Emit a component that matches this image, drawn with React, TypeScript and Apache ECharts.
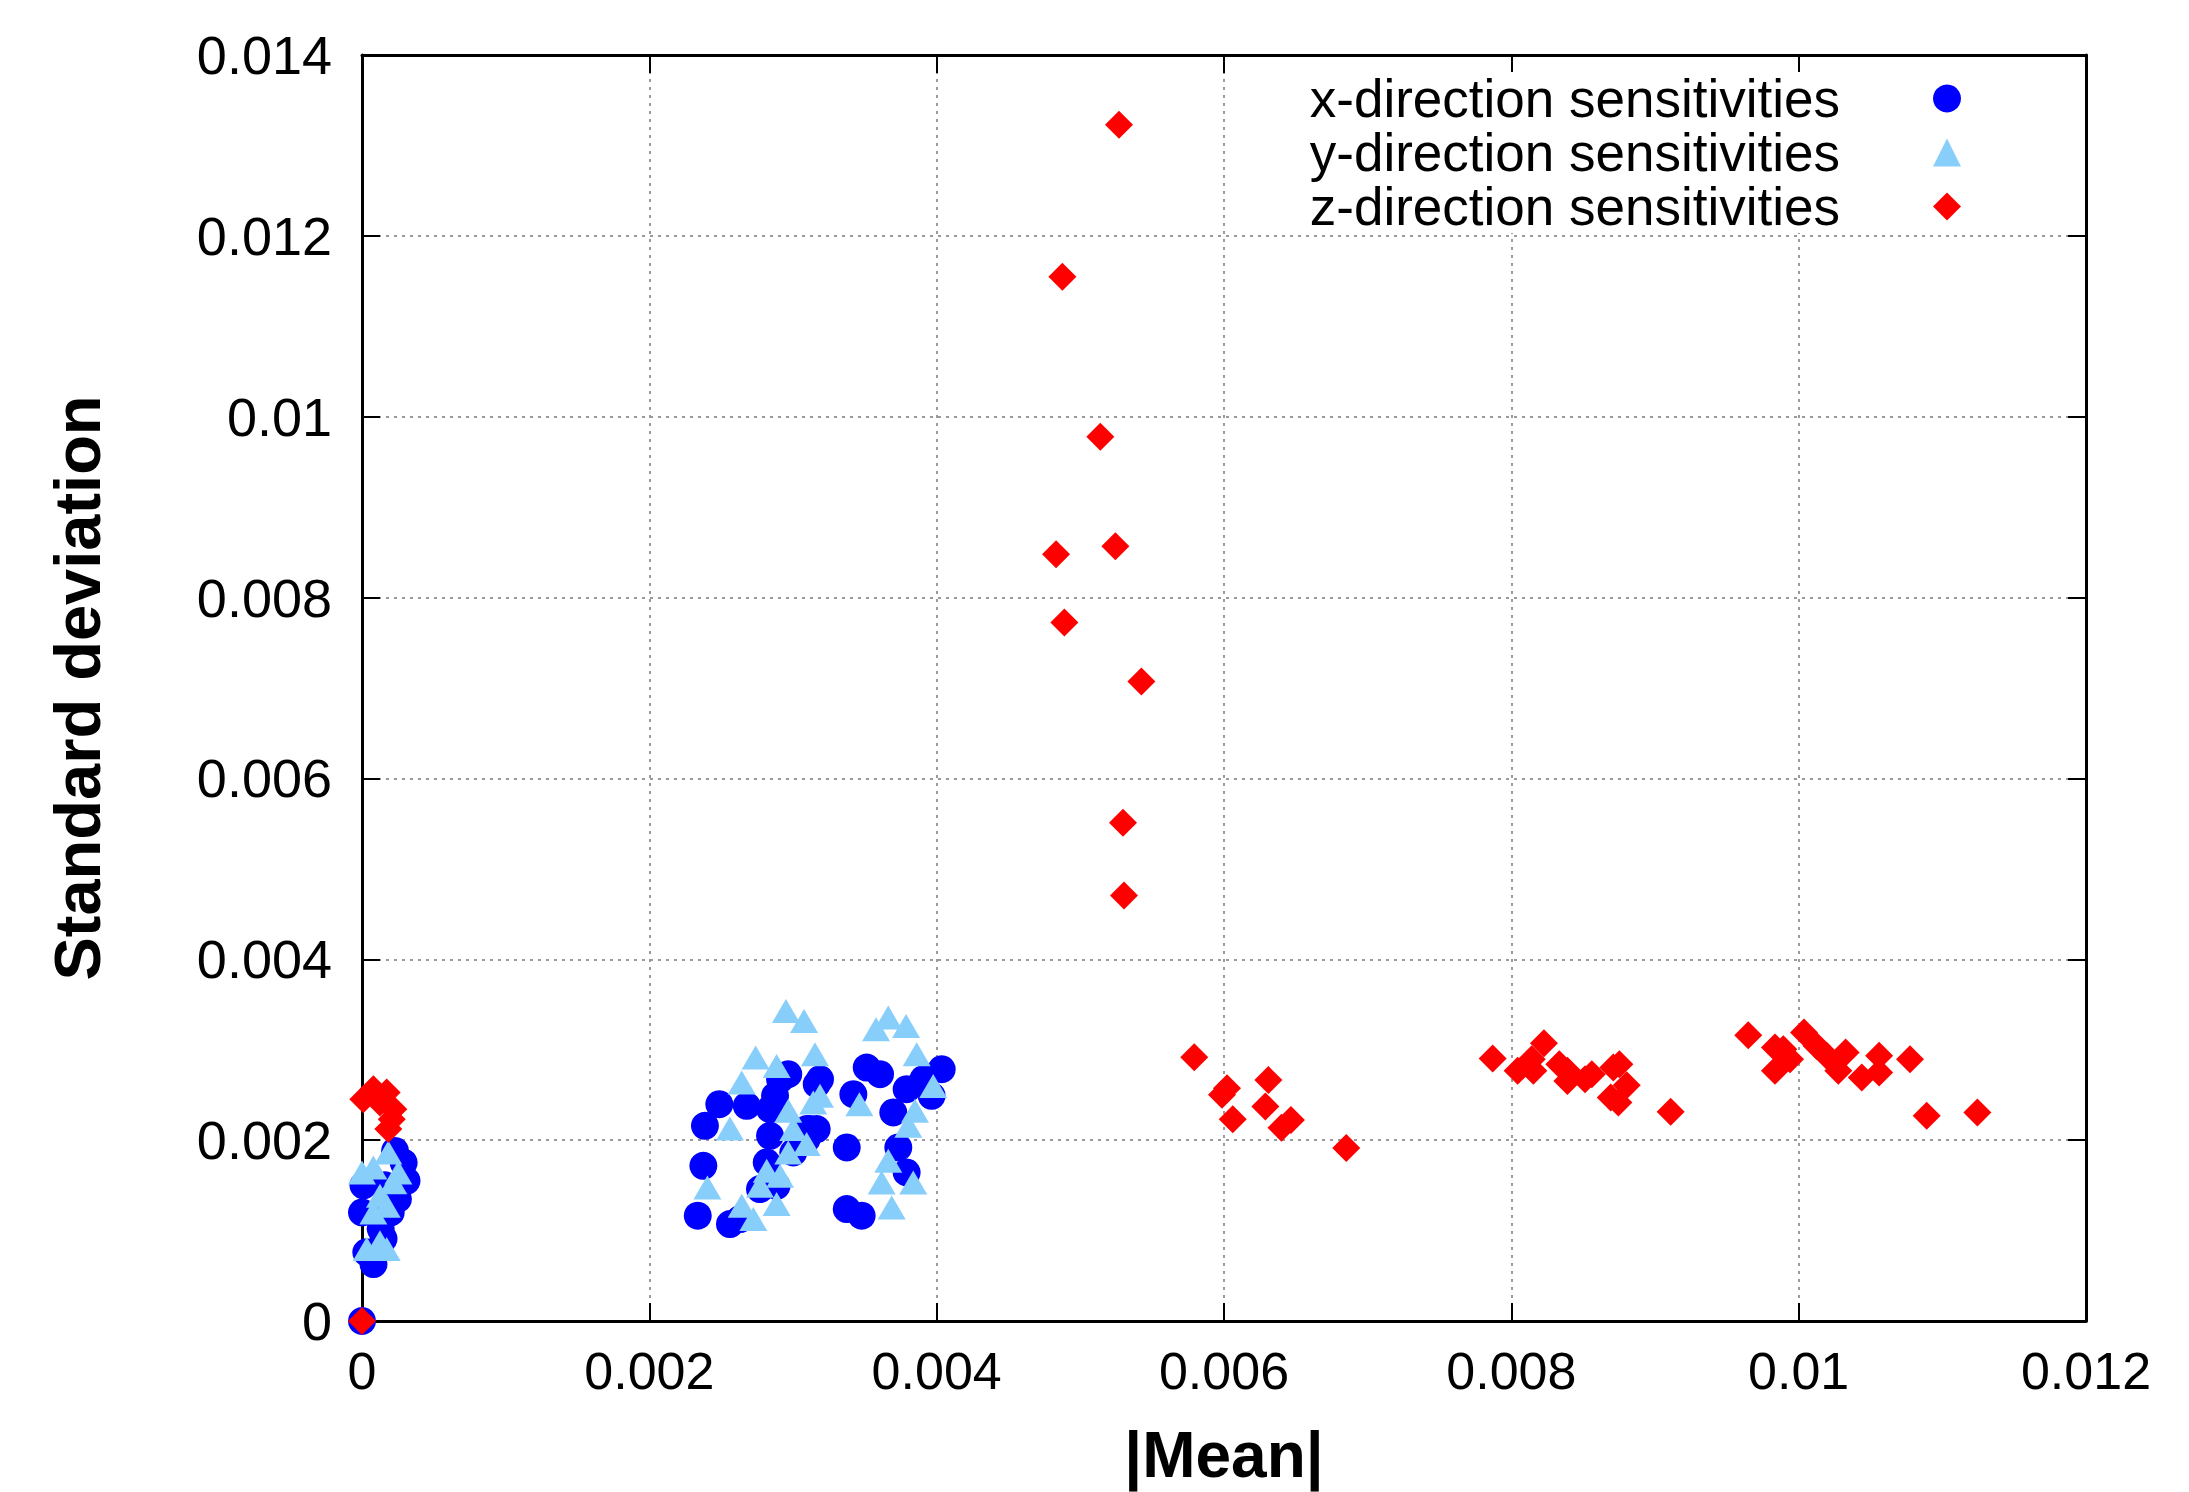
import React, { useEffect, useRef } from "react";
import * as echarts from "echarts";

const seriesNames = [
  "x-direction sensitivities",
  "y-direction sensitivities",
  "z-direction sensitivities",
];

const xTicks = { min: 0, max: 0.012, interval: 0.002 };
const yTicks = { min: 0, max: 0.014, interval: 0.002 };

const xDirection: [number, number][] = [
  [0, 0], [0.00023, 0.00188], [0.00029, 0.00175], [0.00031, 0.00155], [0.00025, 0.00135],
  [0.00001, 0.0015], [0.0, 0.0012], [0.0002, 0.0012], [0.00003, 0.00076], [0.00008, 0.00063],
  [0.00013, 0.00102], [0.00015, 0.00091], [0.00016, 0.0015],
  [0.002387, 0.002158], [0.002487, 0.002398], [0.002678, 0.002379], [0.002376, 0.001716],
  [0.002337, 0.001164], [0.002561, 0.001072], [0.002631, 0.001127], [0.002875, 0.00249],
  [0.002967, 0.002729], [0.003165, 0.002619], [0.00284, 0.002048], [0.002817, 0.001753],
  [0.00277, 0.001459], [0.002886, 0.001495], [0.003095, 0.002122], [0.003002, 0.001864],
  [0.00284, 0.002343], [0.00291, 0.00267], [0.003165, 0.002122], [0.003095, 0.002011],
  [0.003513, 0.002803], [0.003606, 0.002729], [0.00342, 0.002508], [0.003188, 0.002674],
  [0.003374, 0.001919], [0.003374, 0.001238], [0.003478, 0.001164], [0.003698, 0.002306],
  [0.003791, 0.002564], [0.003907, 0.002674], [0.004035, 0.002785], [0.003965, 0.00249],
  [0.003733, 0.001919], [0.003791, 0.001643], [0.003118, 0.002122],
];

const yDirection: [number, number][] = [
  [0.0, 0.001643], [0.000079, 0.001698], [0.000183, 0.001864], [0.000253, 0.001643],
  [0.000218, 0.001533], [0.000125, 0.001385], [0.000172, 0.001274], [0.000079, 0.001201],
  [0.000125, 0.00087], [0.000172, 0.000796], [0.000033, 0.000796],
  [0.002951, 0.003429], [0.003077, 0.003318], [0.00274, 0.002913], [0.002886, 0.002821],
  [0.003153, 0.00295], [0.002643, 0.002637], [0.002561, 0.002129], [0.002967, 0.002324],
  [0.003141, 0.002416], [0.003002, 0.002122], [0.003095, 0.001956], [0.002967, 0.001864],
  [0.002817, 0.001661], [0.00291, 0.001606], [0.00277, 0.001495], [0.002404, 0.001477],
  [0.002886, 0.001293], [0.002643, 0.001274], [0.002724, 0.001127], [0.003663, 0.003356],
  [0.003578, 0.003227], [0.003787, 0.003263], [0.003861, 0.00295], [0.003188, 0.00249],
  [0.003462, 0.002398], [0.003976, 0.0026], [0.003849, 0.002324], [0.003803, 0.002158],
  [0.003663, 0.001771], [0.003617, 0.001532], [0.003837, 0.001532], [0.003687, 0.001256],
];

const zDirection: [number, number][] = [
  [0, 0], [0.000009, 0.002453], [0.000079, 0.002564], [0.000172, 0.002527], [0.000218, 0.002343],
  [0.000207, 0.002232], [0.000183, 0.002122], [0.000125, 0.002416],
  [0.005269, 0.013229], [0.004875, 0.011548], [0.005139, 0.009779], [0.004831, 0.008478],
  [0.005244, 0.008567], [0.004889, 0.007724], [0.005425, 0.007072], [0.005297, 0.005509],
  [0.005304, 0.004704],
  [0.005793, 0.002917], [0.006021, 0.002575], [0.005986, 0.002502], [0.006061, 0.002232],
  [0.006309, 0.002664], [0.006288, 0.002373], [0.006466, 0.002224], [0.0064, 0.002138],
  [0.006851, 0.001913],
  [0.00787, 0.002903], [0.008044, 0.002766], [0.008142, 0.002895], [0.008227, 0.003072],
  [0.008153, 0.002766], [0.008334, 0.00284], [0.00839, 0.002766], [0.00839, 0.002655],
  [0.008513, 0.002674], [0.00856, 0.002729], [0.00871, 0.002803], [0.008752, 0.00284],
  [0.008803, 0.002608], [0.008692, 0.002472], [0.008745, 0.002417], [0.009109, 0.002313],
  [0.009649, 0.00316], [0.009835, 0.003024], [0.009893, 0.003006], [0.00994, 0.002895],
  [0.009835, 0.002766], [0.010037, 0.00319], [0.010125, 0.003042], [0.010195, 0.002932],
  [0.010327, 0.002969], [0.010276, 0.002766], [0.010439, 0.002692], [0.01056, 0.002932],
  [0.01056, 0.002748], [0.010775, 0.002895], [0.010891, 0.002269], [0.011244, 0.002306],
];

const FONT = "'Liberation Sans', Arial, Helvetica, sans-serif";

export default function App() {
  const ref = useRef<HTMLDivElement>(null);

  useEffect(() => {
    document.body.style.margin = "0";
    if (!ref.current) return;
    const chart = echarts.init(ref.current, null, { renderer: "svg" });

    const axisLine = { show: true, onZero: false, lineStyle: { color: "#000", width: 3 } };
    const tick = { show: true, inside: true, length: 18, lineStyle: { color: "#000", width: 2 } };
    const grid = { show: true, lineStyle: { color: "#9a9a9a", width: 2, type: [3, 5] as any } };

    chart.setOption({
      animation: false,
      backgroundColor: "#fff",
      grid: { left: 362, right: 103, top: 55, bottom: 170, containLabel: false },
      legend: {
        data: seriesNames,
        orient: "vertical",
        right: 216,
        top: 72,
        align: "right",
        itemWidth: 28,
        itemHeight: 28,
        itemGap: 1,
        padding: [0, 12, 0, 20],
        backgroundColor: "#fff",
        selectedMode: false,
        textStyle: {
          fontFamily: FONT,
          fontSize: 53,
          color: "#000",
          lineHeight: 53,
          padding: [0, 88, 0, 0],
        },
      },
      xAxis: [
        {
          type: "value",
          min: xTicks.min,
          max: xTicks.max,
          interval: xTicks.interval,
          name: "|Mean|",
          nameLocation: "middle",
          nameGap: 102,
          nameTextStyle: { fontFamily: FONT, fontSize: 64, fontWeight: "bold", color: "#000" },
          axisLine,
          axisTick: tick,
          splitLine: grid,
          axisLabel: { fontFamily: FONT, fontSize: 52, color: "#000", margin: 24 },
        },
        {
          type: "value",
          position: "top",
          min: xTicks.min,
          max: xTicks.max,
          interval: xTicks.interval,
          axisLine,
          axisTick: tick,
          splitLine: { show: false },
          axisLabel: { show: false },
        },
      ],
      yAxis: [
        {
          type: "value",
          min: yTicks.min,
          max: yTicks.max,
          interval: yTicks.interval,
          name: "Standard deviation",
          nameLocation: "middle",
          nameGap: 252,
          nameTextStyle: { fontFamily: FONT, fontSize: 65, fontWeight: "bold", color: "#000" },
          axisLine,
          axisTick: tick,
          splitLine: grid,
          axisLabel: { fontFamily: FONT, fontSize: 54, color: "#000", margin: 30 },
        },
        {
          type: "value",
          position: "right",
          min: yTicks.min,
          max: yTicks.max,
          interval: yTicks.interval,
          axisLine,
          axisTick: tick,
          splitLine: { show: false },
          axisLabel: { show: false },
        },
      ],
      series: [
        {
          name: seriesNames[0],
          type: "scatter",
          data: xDirection,
          symbol: "circle",
          symbolSize: 28,
          clip: false,
          itemStyle: { color: "#0000ff", opacity: 1 },
        },
        {
          name: seriesNames[1],
          type: "scatter",
          data: yDirection,
          symbol: "triangle",
          symbolSize: [28, 24],
          clip: false,
          itemStyle: { color: "#87cefa", opacity: 1 },
        },
        {
          name: seriesNames[2],
          type: "scatter",
          data: zDirection,
          symbol: "diamond",
          symbolSize: 28,
          clip: false,
          itemStyle: { color: "#ff0000", opacity: 1 },
        },
      ],
    });

    return () => chart.dispose();
  }, []);

  return (
    <div
      ref={ref}
      style={{ position: "absolute", left: 0, top: 0, width: 2189, height: 1492 }}
    />
  );
}
